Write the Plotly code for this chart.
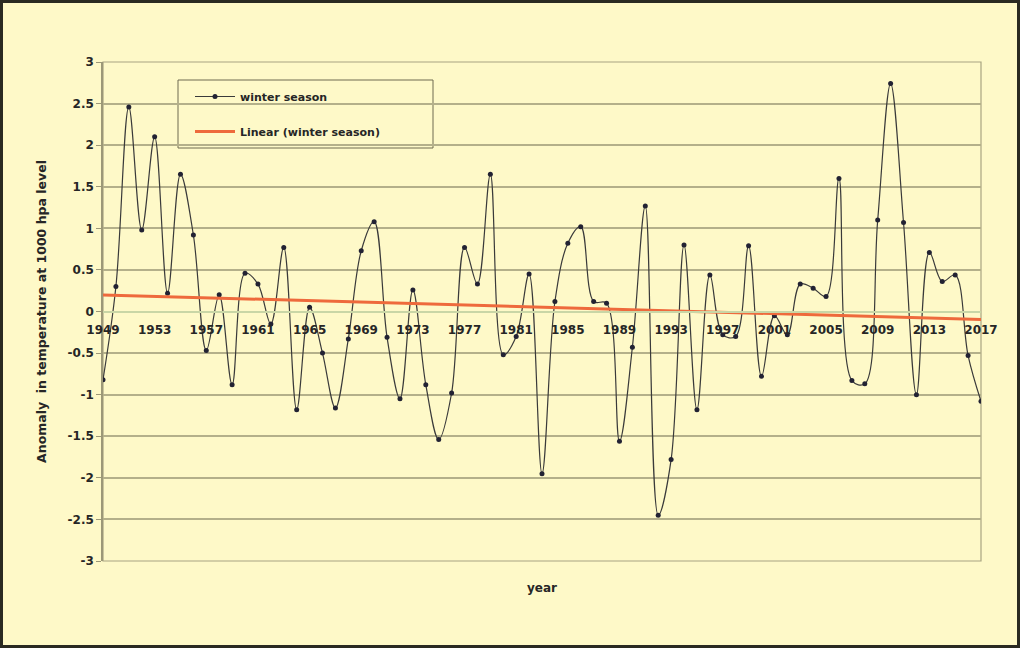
import numpy as np
import plotly.graph_objects as go

years = list(range(1949, 2018))
anomaly = [
    -0.82, 0.30, 2.46, 0.98, 2.10, 0.22, 1.65, 0.92, -0.47, 0.20,
    -0.88, 0.46, 0.33, -0.15, 0.77, -1.18, 0.05, -0.50, -1.16, -0.33,
    0.73, 1.08, -0.31, -1.05, 0.26, -0.88, -1.54, -0.98, 0.77, 0.33,
    1.65, -0.52, -0.30, 0.45, -1.95, 0.12, 0.82, 1.02, 0.12, 0.10,
    -1.56, -0.43, 1.27, -2.45, -1.78, 0.80, -1.18, 0.44, -0.28, -0.30,
    0.79, -0.78, -0.05, -0.28, 0.33, 0.28, 0.18, 1.60, -0.83, -0.87,
    1.10, 2.74, 1.07, -1.00, 0.71, 0.36, 0.44, -0.53, -1.08,
]
xtick_years = list(range(1949, 2018, 4))
ytick_vals = [v / 2 for v in range(-6, 7)]
ytick_text = ["3" if v == 3 else "-3" if v == -3 else ("%g" % v) for v in ytick_vals]

slope, intercept = np.polyfit(years, anomaly, 1)
trend = [slope * y + intercept for y in years]

bg = "#FEF9C8"
grid = "#B4B08A"
font_family = "DejaVu Sans, Liberation Sans, Arial, sans-serif"
txt = "#262626"

fig = go.Figure()
fig.add_trace(go.Scatter(
    x=years, y=anomaly, mode="lines+markers", name="winter season",
    line=dict(color="#3A3A3A", width=1.2, shape="spline", smoothing=1.0),
    marker=dict(color="#222233", size=5, symbol="circle"),
    legendgroup="a",
))
fig.add_trace(go.Scatter(
    x=years, y=trend, mode="lines", name="Linear (winter season)",
    line=dict(color="#EE6A3C", width=3),
    legendgroup="b",
))

L, R, T, B = 103, 39, 62, 87
W, H = 1020, 648
pw, ph = W - L - R, H - T - B

fig.update_layout(
    width=W, height=H,
    margin=dict(l=L, r=R, t=T, b=B),
    paper_bgcolor=bg, plot_bgcolor=bg,
    font=dict(family=font_family, color=txt),
    showlegend=True,
    legend=dict(
        x=(190 - L) / pw, y=(H - B - 82) / ph, xanchor="left", yanchor="top",
        bgcolor="rgba(0,0,0,0)", borderwidth=0,
        font=dict(size=11, weight="bold", color=txt),
        tracegroupgap=16, itemwidth=40,
    ),
    xaxis=dict(
        range=[1949, 2017], anchor="free", position=0.5,
        tickvals=xtick_years, ticktext=[str(y) for y in xtick_years],
        tickfont=dict(size=12, weight="bold", color=txt),
        showgrid=False, zeroline=False,
        showline=True, linecolor="#C9D6A6", linewidth=1.5,
        ticks="", ticklabelstandoff=7,
    ),
    yaxis=dict(
        range=[-3, 3], tickvals=ytick_vals, ticktext=ytick_text,
        tickfont=dict(size=12, weight="bold", color=txt),
        showgrid=True, gridcolor=grid, gridwidth=1.6,
        zeroline=False,
        showline=True, linecolor="#9C9878", linewidth=1.5,
        ticks="outside", ticklen=5, tickcolor="#9C9878",
        title=dict(text="Anomaly  in temperature at 1000 hpa level",
                   font=dict(size=12.5, weight="bold", color=txt),
                   standoff=18),
    ),
    annotations=[dict(
        text="year", x=0.5, y=(H - B - 588) / ph, xref="paper", yref="paper",
        xanchor="center", yanchor="middle",
        showarrow=False, font=dict(size=12, weight="bold", color=txt),
    )],
    shapes=[
        dict(type="rect", xref="paper", yref="paper", x0=0, x1=1, y0=0, y1=1,
             line=dict(color="#A8A482", width=1.2), fillcolor="rgba(0,0,0,0)", layer="below"),
        dict(type="rect", xref="paper", yref="paper",
             x0=(178 - L) / pw, x1=(433 - L) / pw,
             y0=(H - B - 148) / ph, y1=(H - B - 80) / ph,
             line=dict(color="#6E6B50", width=1), fillcolor=bg, layer="below"),
        dict(type="rect", xref="paper", yref="paper",
             x0=(1.5 - L) / pw, x1=(W - 1.5 - L) / pw,
             y0=(H - B - (H - 1.5)) / ph, y1=(H - B - 1.5) / ph,
             line=dict(color="#2A2A22", width=3), fillcolor="rgba(0,0,0,0)"),
    ],
)

fig.write_html("out.html", config={"displayModeBar": False},
               post_script="document.body.style.margin='0';document.body.style.overflow='hidden';")
